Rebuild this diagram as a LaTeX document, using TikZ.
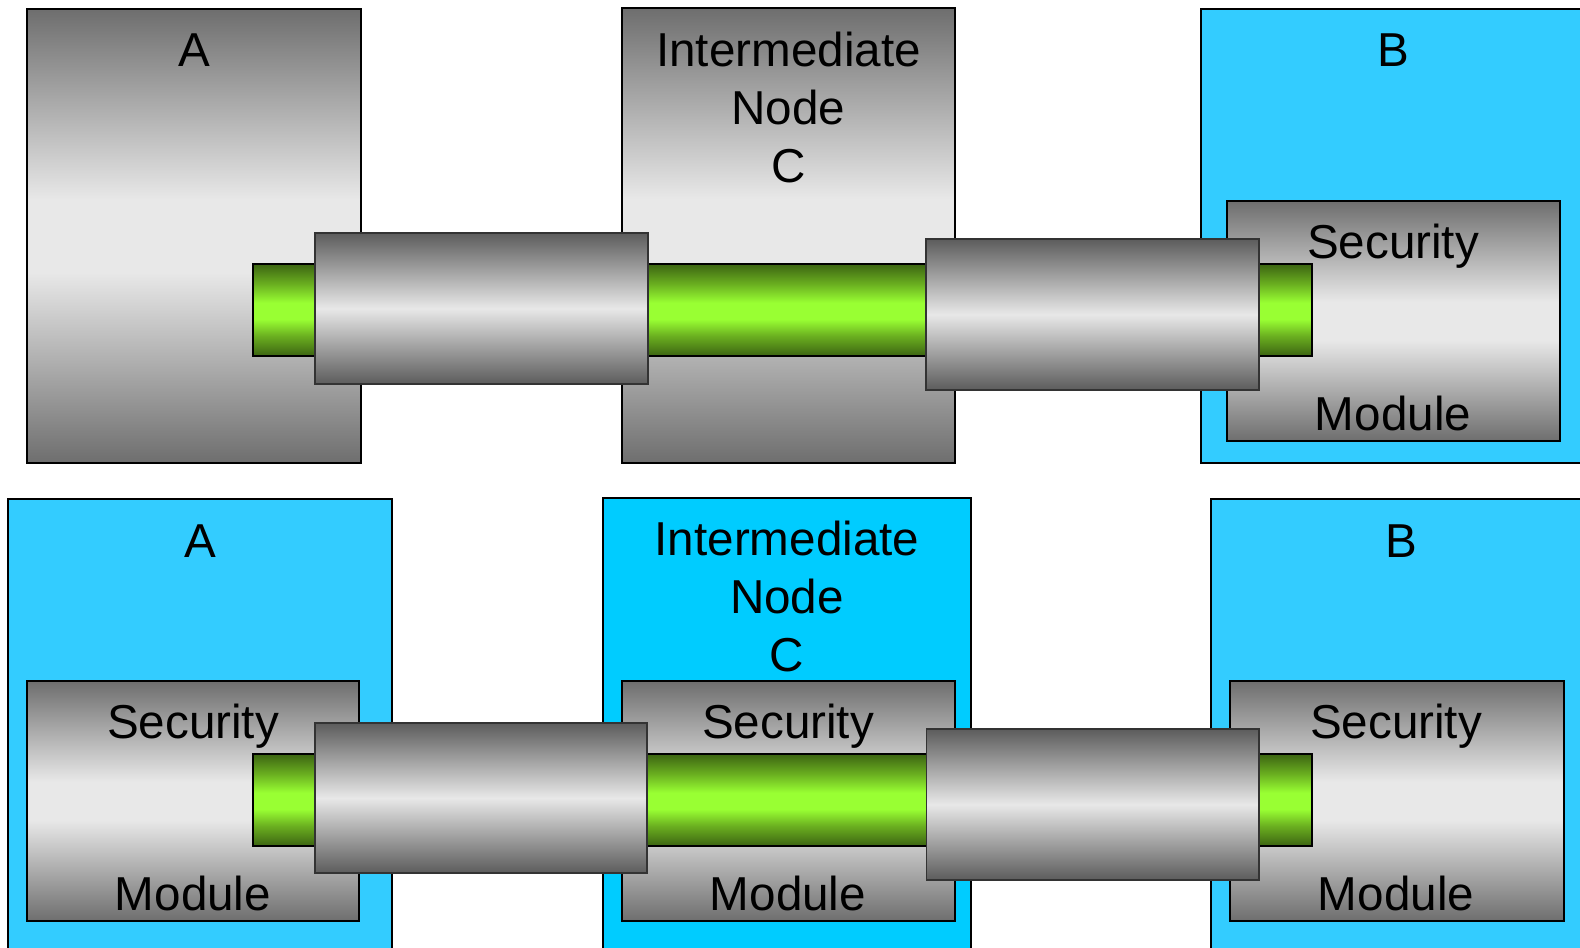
\documentclass[tikz,border=0pt]{standalone}
\usepackage{fontspec}
\setmainfont{Liberation Sans}

\definecolor{steeldark}{HTML}{6E6E6E}
\definecolor{steellight}{HTML}{E8E8E8}
\definecolor{pipedark}{HTML}{5C5C5C}
\definecolor{pipeline}{HTML}{333333}
\definecolor{rodedge}{HTML}{3C6412}
\definecolor{rodmid}{HTML}{6BB020}
\definecolor{rodlight}{HTML}{99FF33}
\definecolor{hostblue}{HTML}{33CCFF}
\definecolor{relayblue}{HTML}{00CCFF}

% vertical shadings: the path is mapped onto the 25bp..75bp band
\pgfdeclareverticalshading{steelshade}{100bp}{color(0bp)=(steeldark); color(25bp)=(steeldark); color(46bp)=(steellight); color(54bp)=(steellight); color(75bp)=(steeldark); color(100bp)=(steeldark)}
\pgfdeclareverticalshading{pipeshade}{100bp}{color(0bp)=(pipedark); color(25bp)=(pipedark); color(50bp)=(steellight); color(75bp)=(pipedark); color(100bp)=(pipedark)}
\pgfdeclareverticalshading{rodshade}{100bp}{color(0bp)=(rodedge); color(25bp)=(rodedge); color(36bp)=(rodmid); color(45bp)=(rodlight); color(54bp)=(rodlight); color(64bp)=(rodmid); color(75bp)=(rodedge); color(100bp)=(rodedge)}

\tikzset{
  box/.style={draw=black, line width=1pt},
  hostbox/.style={box, fill=hostblue},
  relaybox/.style={box, fill=relayblue},
  steelbox/.style={box, shade, shading=steelshade},
  channel/.style={draw=pipeline, line width=0.8pt, shade, shading=pipeshade},
  rodbar/.style={draw=black, line width=1pt, shade, shading=rodshade},
  % anchor=base sits on the baseline of the last line
  tagtext/.style={font=\fontsize{23.8}{29}\selectfont, inner sep=0pt, align=center, anchor=base},
}

\begin{document}
\begin{tikzpicture}[x=0.5pt, y=-0.5pt]
\useasboundingbox (0,0) rectangle (1580,948);
\clip (0,0) rectangle (1580,948);

% ---------- upper row: hop-by-hop ----------
% end system A
\path[steelbox] (27,9) rectangle (361,463);
\node[tagtext] (topA) at (194,66) {A};
% intermediate node C
\path[steelbox] (622,8) rectangle (955,463);
\node[tagtext] (topC) at (788.5,182) {Intermediate\\Node\\C};
% end system B with its security module
\path[hostbox] (1201,9) rectangle (1590,463);
\node[tagtext] (topB) at (1393,66) {B};
\path[steelbox] (1227,201) rectangle (1560,441);
\node[tagtext] (topSecB) at (1393,258) {Security};
\node[tagtext] (topModB) at (1393,430) {Module};
% protected channel and the two links
\path[rodbar] (253,264) rectangle (1312,356);
\path[channel] (315,233) rectangle (648,384);
\path[channel] (926,239) rectangle (1259,390);

% ---------- lower row: end-to-end ----------
% end system A with its security module
\path[hostbox] (8,499) rectangle (392,960);
\node[tagtext] (botA) at (200,557) {A};
\path[steelbox] (27,681) rectangle (359,921);
\node[tagtext] (botSecA) at (193,738) {Security};
\node[tagtext] (botModA) at (193,910) {Module};
% intermediate node C with its security module
\path[relaybox] (603,498) rectangle (971,960);
\node[tagtext] (botC) at (787,671) {Intermediate\\Node\\C};
\path[steelbox] (622,681) rectangle (955,921);
\node[tagtext] (botSecC) at (788,738) {Security};
\node[tagtext] (botModC) at (788,910) {Module};
% end system B with its security module
\path[hostbox] (1210.5,499) rectangle (1600,960);
\node[tagtext] (botB) at (1401,557) {B};
\path[steelbox] (1230,681) rectangle (1563.5,921);
\node[tagtext] (botSecB) at (1396,738) {Security};
\node[tagtext] (botModB) at (1396,910) {Module};
% protected channel and the two links
\path[rodbar] (253,754) rectangle (1312,846);
\path[channel] (315,723) rectangle (647,873);
\path[channel] (926.5,729) rectangle (1259,880);
\end{tikzpicture}
\end{document}
